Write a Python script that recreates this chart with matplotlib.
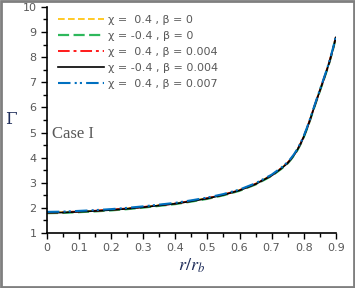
import numpy as np
import matplotlib
matplotlib.use("Agg")
import matplotlib.pyplot as plt
from matplotlib.patches import Rectangle

plt.rcParams['mathtext.fontset'] = 'stix'

# r/r_b sample positions and Gamma values
r = [0.0, 0.05, 0.1, 0.15, 0.2, 0.25, 0.3, 0.35, 0.4, 0.45, 0.5, 0.55,
     0.6, 0.65, 0.7, 0.73, 0.75, 0.76, 0.77, 0.78, 0.79, 0.8, 0.81, 0.82,
     0.83, 0.84, 0.85, 0.86, 0.87, 0.88, 0.89, 0.9]
g_a = [1.82, 1.83, 1.86, 1.89, 1.93, 1.98, 2.04, 2.11, 2.18, 2.28, 2.39, 2.53,
       2.71, 2.96, 3.30, 3.58, 3.80, 3.95, 4.12, 4.32, 4.56, 4.84, 5.17, 5.53,
       5.92, 6.3, 6.67, 7.04, 7.42, 7.82, 8.28, 8.8]
g_b = [v - 0.03 for v in g_a]
g_c = [v - 0.005 for v in g_a]
g_d = [v - 0.015 for v in g_a]
g_e = [v + 0.02 for v in g_a]

labels = ["χ =  0.4 , β = 0", "χ = -0.4 , β = 0", "χ =  0.4 , β = 0.004",
          "χ = -0.4 , β = 0.004", "χ =  0.4 , β = 0.007"]

fig = plt.figure(figsize=(3.55, 2.88), dpi=100)
ax = fig.add_axes([0.132, 0.191, 0.814, 0.785])

ax.plot(r, g_a, color='#FFC000', ls=(0, (4, 2)), lw=1.2, label=labels[0])
ax.plot(r, g_b, color='#2EB85C', ls=(0, (5, 2)), lw=1.6, label=labels[1])
ax.plot(r, g_c, color='#FF1A1A', ls=(0, (6, 2, 1.5, 2)), lw=1.4, label=labels[2])
ax.plot(r, g_d, color='black', ls='-', lw=1.2, label=labels[3])
ax.plot(r, g_e, color='#0070C0', ls=(0, (6, 2, 1, 1.5, 1, 2)), lw=1.5, label=labels[4])

ax.set_xlim(0, 0.9)
ax.set_ylim(1, 10)
ax.set_xticks(np.arange(0, 0.91, 0.1))
ax.set_xticklabels(['0', '0.1', '0.2', '0.3', '0.4', '0.5', '0.6', '0.7', '0.8', '0.9'])
ax.set_yticks(range(1, 11))
ax.set_xticks(np.arange(0.05, 0.9, 0.1), minor=True)
ax.set_yticks(np.arange(1.5, 10, 1), minor=True)
ax.tick_params(which='major', direction='out', length=4, width=1, labelsize=8,
               labelcolor='#595959', color='black')
ax.tick_params(which='minor', direction='out', length=3, width=1, color='black')
for s in ['top', 'right']:
    ax.spines[s].set_visible(False)
for s in ['left', 'bottom']:
    ax.spines[s].set_linewidth(1.2)

ax.set_xlabel(r'$r/r_b$', fontsize=13, color='#1F2D5A', labelpad=2)
ax.set_ylabel('Γ', fontsize=12, family='DejaVu Serif', color='#1F2D5A',
              rotation=0, labelpad=12)
ax.yaxis.set_label_coords(-0.125, 0.465)
ax.text(0.015, 4.95, 'Case I', fontsize=12, family='Liberation Serif', color='#595959',
        va='center')

leg = ax.legend(loc='upper left', bbox_to_anchor=(0.01, 1.0), frameon=False,
                fontsize=8, handlelength=4.2, handletextpad=0.3, labelspacing=0.55,
                borderaxespad=0.3)
for t in leg.get_texts():
    t.set_color('#595959')

fig.patches.append(Rectangle((0.003, 0.004), 0.994, 0.992, transform=fig.transFigure,
                             fill=False, ec='#7F7F7F', lw=2))

fig.savefig('out.png', dpi=100)
